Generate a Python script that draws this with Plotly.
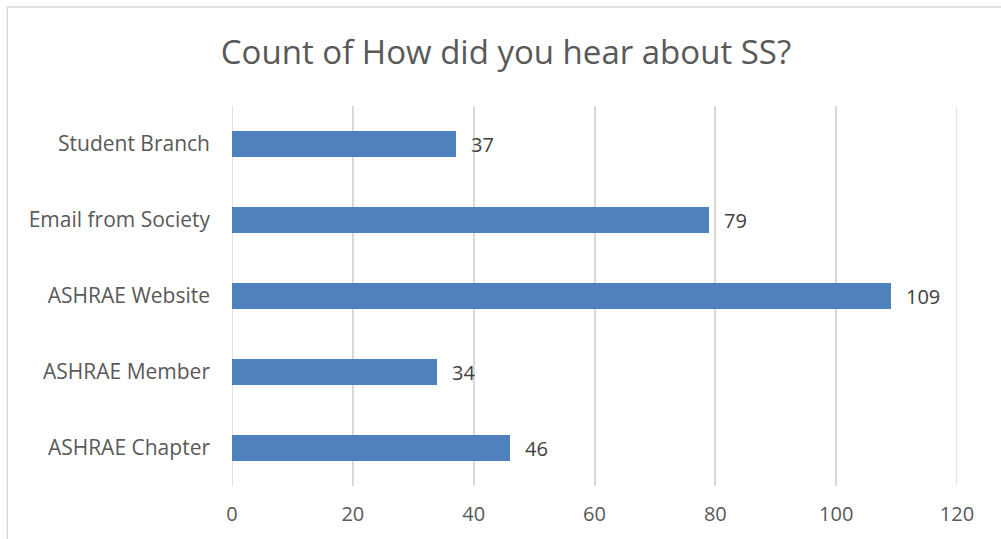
import plotly.graph_objects as go

categories = ["ASHRAE Chapter", "ASHRAE Member", "ASHRAE Website", "Email from Society", "Student Branch"]
counts = [46, 34, 109, 79, 37]
x_ticks = [0, 20, 40, 60, 80, 100, 120]
title = "Count of How did you hear about SS?"

FONT = "'Open Sans', sans-serif"
GRID = "#D9D9D9"

fig = go.Figure()
fig.add_trace(go.Bar(
    y=categories, x=counts, orientation="h",
    marker=dict(color="#4F81BD", line=dict(width=0)),
    width=0.345,
    hoverinfo="skip",
))

for c, v in zip(categories, counts):
    fig.add_annotation(x=v, y=c, text=str(v), showarrow=False,
                       xanchor="left", xshift=13,
                       font=dict(family=FONT, size=20, color="#404040"))

# gridlines at the axis ends (plotly skips grid lines on the range edges)
for t in (x_ticks[0], x_ticks[-1]):
    fig.add_shape(type="line", xref="x", yref="paper", x0=t, x1=t, y0=0, y1=1,
                  line=dict(color=GRID, width=1.5), layer="below")

fig.add_shape(type="rect", xref="paper", yref="paper",
              x0=-0.31, x1=1.08, y0=-0.2, y1=1.2605,
              line=dict(color=GRID, width=1.5), fillcolor="rgba(0,0,0,0)",
              layer="below")

fig.update_layout(
    width=1001, height=539,
    margin=dict(l=232, r=44, t=106, b=53),
    paper_bgcolor="white", plot_bgcolor="white",
    showlegend=False,
    bargap=0,
    title=dict(text=title, x=506 / 1001, xref="container", xanchor="center",
               y=1 - 52 / 539, yref="container", yanchor="middle",
               font=dict(family=FONT, size=33, color="#595959")),
    xaxis=dict(range=[x_ticks[0], x_ticks[-1]], tickvals=x_ticks, showgrid=True,
               gridcolor=GRID, gridwidth=1.5, zeroline=False,
               showline=False, ticks="", ticklabelstandoff=14,
               tickfont=dict(family=FONT, size=20, color="#595959"),
               fixedrange=True),
    yaxis=dict(showgrid=False, zeroline=False, showline=False, ticks="",
               ticklabelstandoff=21,
               tickfont=dict(family=FONT, size=21, color="#595959"),
               fixedrange=True),
)

fig.write_html("out.html", config={"displayModeBar": False},
               post_script="document.body.style.margin='0';")
